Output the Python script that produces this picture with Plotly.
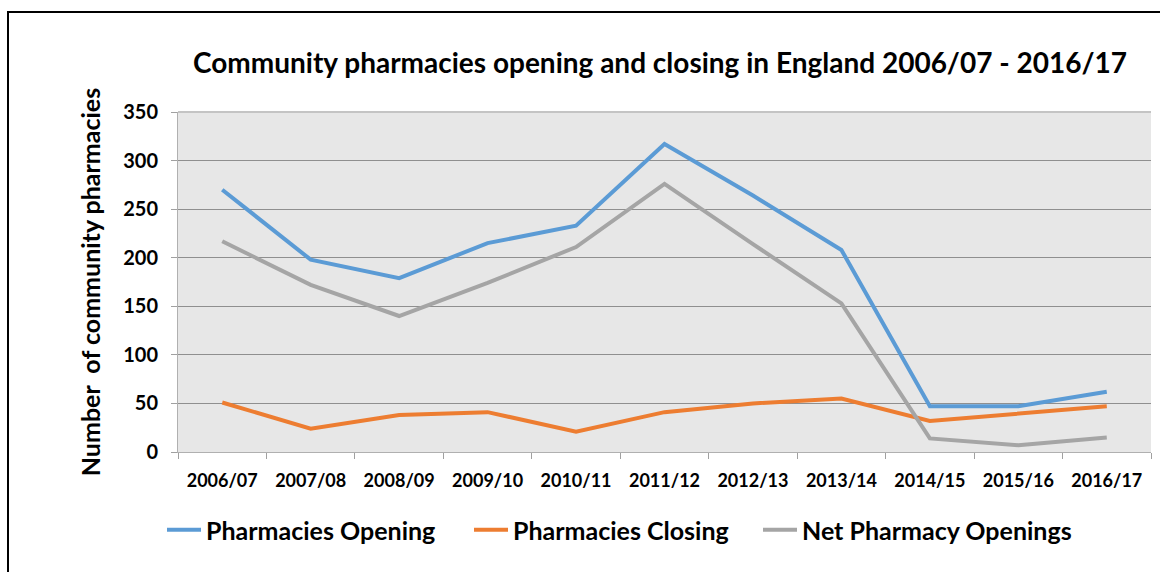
import plotly.graph_objects as go

years = ["2006/07", "2007/08", "2008/09", "2009/10", "2010/11", "2011/12",
         "2012/13", "2013/14", "2014/15", "2015/16", "2016/17"]
opening = [270, 198, 179, 215, 233, 317, 264, 208, 47, 47, 62]
closing = [51, 24, 38, 41, 21, 41, 50, 55, 32, 39, 47]
net = [217, 172, 140, 174, 211, 276, 214, 153, 14, 7, 15]

series_names = ["Pharmacies Opening", "Pharmacies Closing", "Net Pharmacy Openings"]
series_values = [opening, closing, net]
series_colors = ["#5b9bd5", "#ed7d31", "#a5a5a5"]
legend_ids = ["legend", "legend2", "legend3"]
legend_px = [162, 469, 758]  # left pixel of each legend box

FONT = "Lato"
L, R, T, B = 178, 9, 112, 120
PW, PH = 1160 - L - R, 572 - T - B

fig = go.Figure()
for name, vals, col, lid in zip(series_names, series_values, series_colors, legend_ids):
    fig.add_trace(go.Scatter(x=years, y=vals, name="<b>" + name + "</b>", mode="lines",
                             line=dict(color=col, width=4), legend=lid))

legend_style = dict(orientation="h", xanchor="left", y=(452 - 530) / PH, yanchor="middle",
                    font=dict(size=25, family=FONT, color="black"),
                    bgcolor="rgba(0,0,0,0)", itemwidth=34)
legends = {}
for lid, px in zip(legend_ids, legend_px):
    legends[lid] = dict(legend_style, x=(px - L) / PW)

fig.update_layout(
    width=1160, height=572,
    margin=dict(l=L, r=R, t=T, b=B),
    paper_bgcolor="white",
    plot_bgcolor="#e7e7e7",
    font=dict(family=FONT, color="black"),
    title=dict(text="<b>Community pharmacies opening and closing in England 2006/07 - 2016/17</b>",
               x=660 / 1160, xanchor="center", y=1 - 63 / 572, yanchor="middle",
               font=dict(size=28, family=FONT, color="black")),
    showlegend=True,
    **legends,
    xaxis=dict(type="category", tickson="boundaries", ticks="outside", ticklen=6,
               tickcolor="#a0a0a0", showline=True, linecolor="#b0b0b0", linewidth=1,
               showgrid=False, tickfont=dict(size=18, family=FONT, color="black"),
               ticklabelstandoff=12,
               tickprefix="<b>", ticksuffix="</b>", range=[-0.5, 10.5]),
    yaxis=dict(range=[0, 350], dtick=50, ticks="outside", ticklen=6, tickcolor="#a0a0a0",
               showline=True, linecolor="#b0b0b0", linewidth=1,
               showgrid=True, gridcolor="#8f8f8f", gridwidth=1, zeroline=False,
               tickfont=dict(size=20, family=FONT, color="black"),
               ticklabelstandoff=9,
               tickprefix="<b>", ticksuffix="</b>",
               title=dict(text="<b>Number  of community pharmacies</b>",
                          font=dict(size=25, family=FONT, color="black"), standoff=15)),
    shapes=[dict(type="rect", xref="paper", yref="paper",
                 x0=(8 - L) / PW, x1=1.2, y0=-1.0, y1=(452 - 12) / PH,
                 line=dict(color="black", width=2), fillcolor="rgba(0,0,0,0)", layer="below"),
            dict(type="line", xref="paper", yref="paper", x0=0, x1=1, y0=1, y1=1,
                 line=dict(color="#c4c4c4", width=2))],
)

fig.write_html("out.html")
